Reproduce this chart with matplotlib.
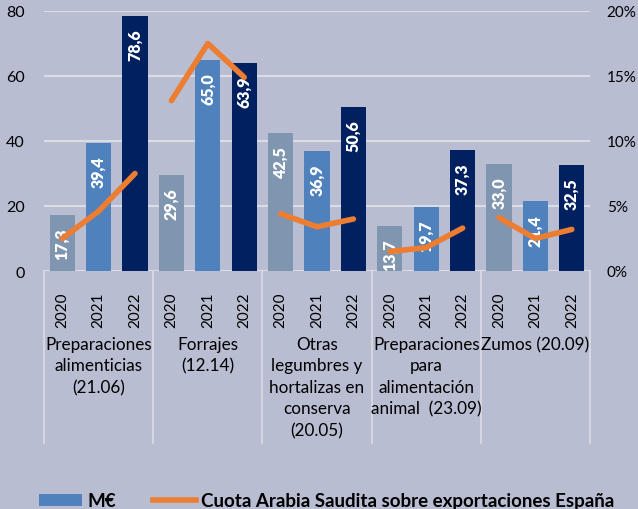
import matplotlib
matplotlib.use("Agg")
import matplotlib.pyplot as plt
from matplotlib.patches import Patch
from matplotlib.lines import Line2D

plt.rcParams['font.family'] = ['Lato', 'DejaVu Sans']

groups = ["Preparaciones\nalimenticias\n(21.06)", "Forrajes\n(12.14)",
          "Otras\nlegumbres y\nhortalizas en\nconserva\n(20.05)",
          "Preparaciones\npara\nalimentación\nanimal  (23.09)", "Zumos (20.09)"]
years = ["2020", "2021", "2022"]
values = [17.3, 39.4, 78.6,
          29.6, 65.0, 63.9,
          42.5, 36.9, 50.6,
          13.7, 19.7, 37.3,
          33.0, 21.4, 32.5]
share = [2.5, 4.6, 7.5,
         13.1, 17.5, 14.9,
         4.4, 3.4, 4.0,
         1.5, 1.8, 3.3,
         4.1, 2.5, 3.2]

bg = "#B8BDD2"
year_colors = ["#8096B0", "#4F81BD", "#002060"]
orange = "#ED7D31"
grid_c = "#DADCE6"

fig = plt.figure(figsize=(6.38, 5.10), dpi=100, facecolor=bg)
ax = fig.add_axes([44/638, 1-272/510, (590-44)/638, 260/510])
ax.set_facecolor(bg)

n = len(values)
xs = list(range(n))
cols = [year_colors[i % 3] for i in range(n)]
ax.bar(xs, values, width=0.69, color=cols, zorder=3)
for x, v in zip(xs, values):
    ax.text(x, v - 3.8, f"{v:.1f}".replace(".", ","), rotation=90, ha="center", va="top",
            color="white", fontsize=11.5, fontweight="heavy", zorder=5)

ax.set_xlim(-0.5, n - 0.5)
ax.set_ylim(0, 80)
ax.set_yticks([0, 20, 40, 60, 80])
ax.yaxis.grid(True, color=grid_c, linewidth=1.5, zorder=0)
ax.set_axisbelow(True)
for s in ax.spines.values():
    s.set_visible(False)
ax.tick_params(axis="y", length=0, labelsize=11.5, pad=14)
ax.set_xticks(xs)
ax.set_xticklabels([years[i % 3] for i in range(n)], rotation=90, fontsize=11)
ax.tick_params(axis="x", length=0, pad=15)

# right axis
ax2 = ax.twinx()
for g in range(len(groups)):
    idx = [3 * g, 3 * g + 1, 3 * g + 2]
    ax2.plot(idx, [share[i] for i in idx], color=orange, linewidth=4, zorder=6,
             solid_capstyle="round")
ax2.set_ylim(0, 20)
ax2.set_yticks([0, 5, 10, 15, 20])
ax2.set_yticklabels(["0%", "5%", "10%", "15%", "20%"])
ax2.tick_params(axis="y", length=0, labelsize=11, pad=12)
for s in ax2.spines.values():
    s.set_visible(False)

# group separators
trans = ax.get_xaxis_transform()
for b in [-0.5, 2.5, 5.5, 8.5, 11.5, 14.5]:
    ax.plot([b, b], [0, -(444 - 272) / 260], color=grid_c, linewidth=1.2,
            transform=trans, clip_on=False)
for g, name in enumerate(groups):
    ax.text(3 * g + 1, -(337 - 272) / 260, name, transform=trans, ha="center", va="top",
            fontsize=12.3, linespacing=1.42)

handles = [Patch(facecolor="#4F81BD", label="M€"),
           Line2D([0], [0], color=orange, linewidth=4, label="Cuota Arabia Saudita sobre exportaciones España")]
leg = fig.legend(handles=handles, loc="center", bbox_to_anchor=(0.512, 1 - 502/510), ncol=2,
                 frameon=False, prop={"weight": "bold", "size": 13.5}, handlelength=2.3,
                 handleheight=0.6, columnspacing=1.95, handletextpad=0.3)

fig.savefig("out.png", dpi=100, facecolor=bg)
